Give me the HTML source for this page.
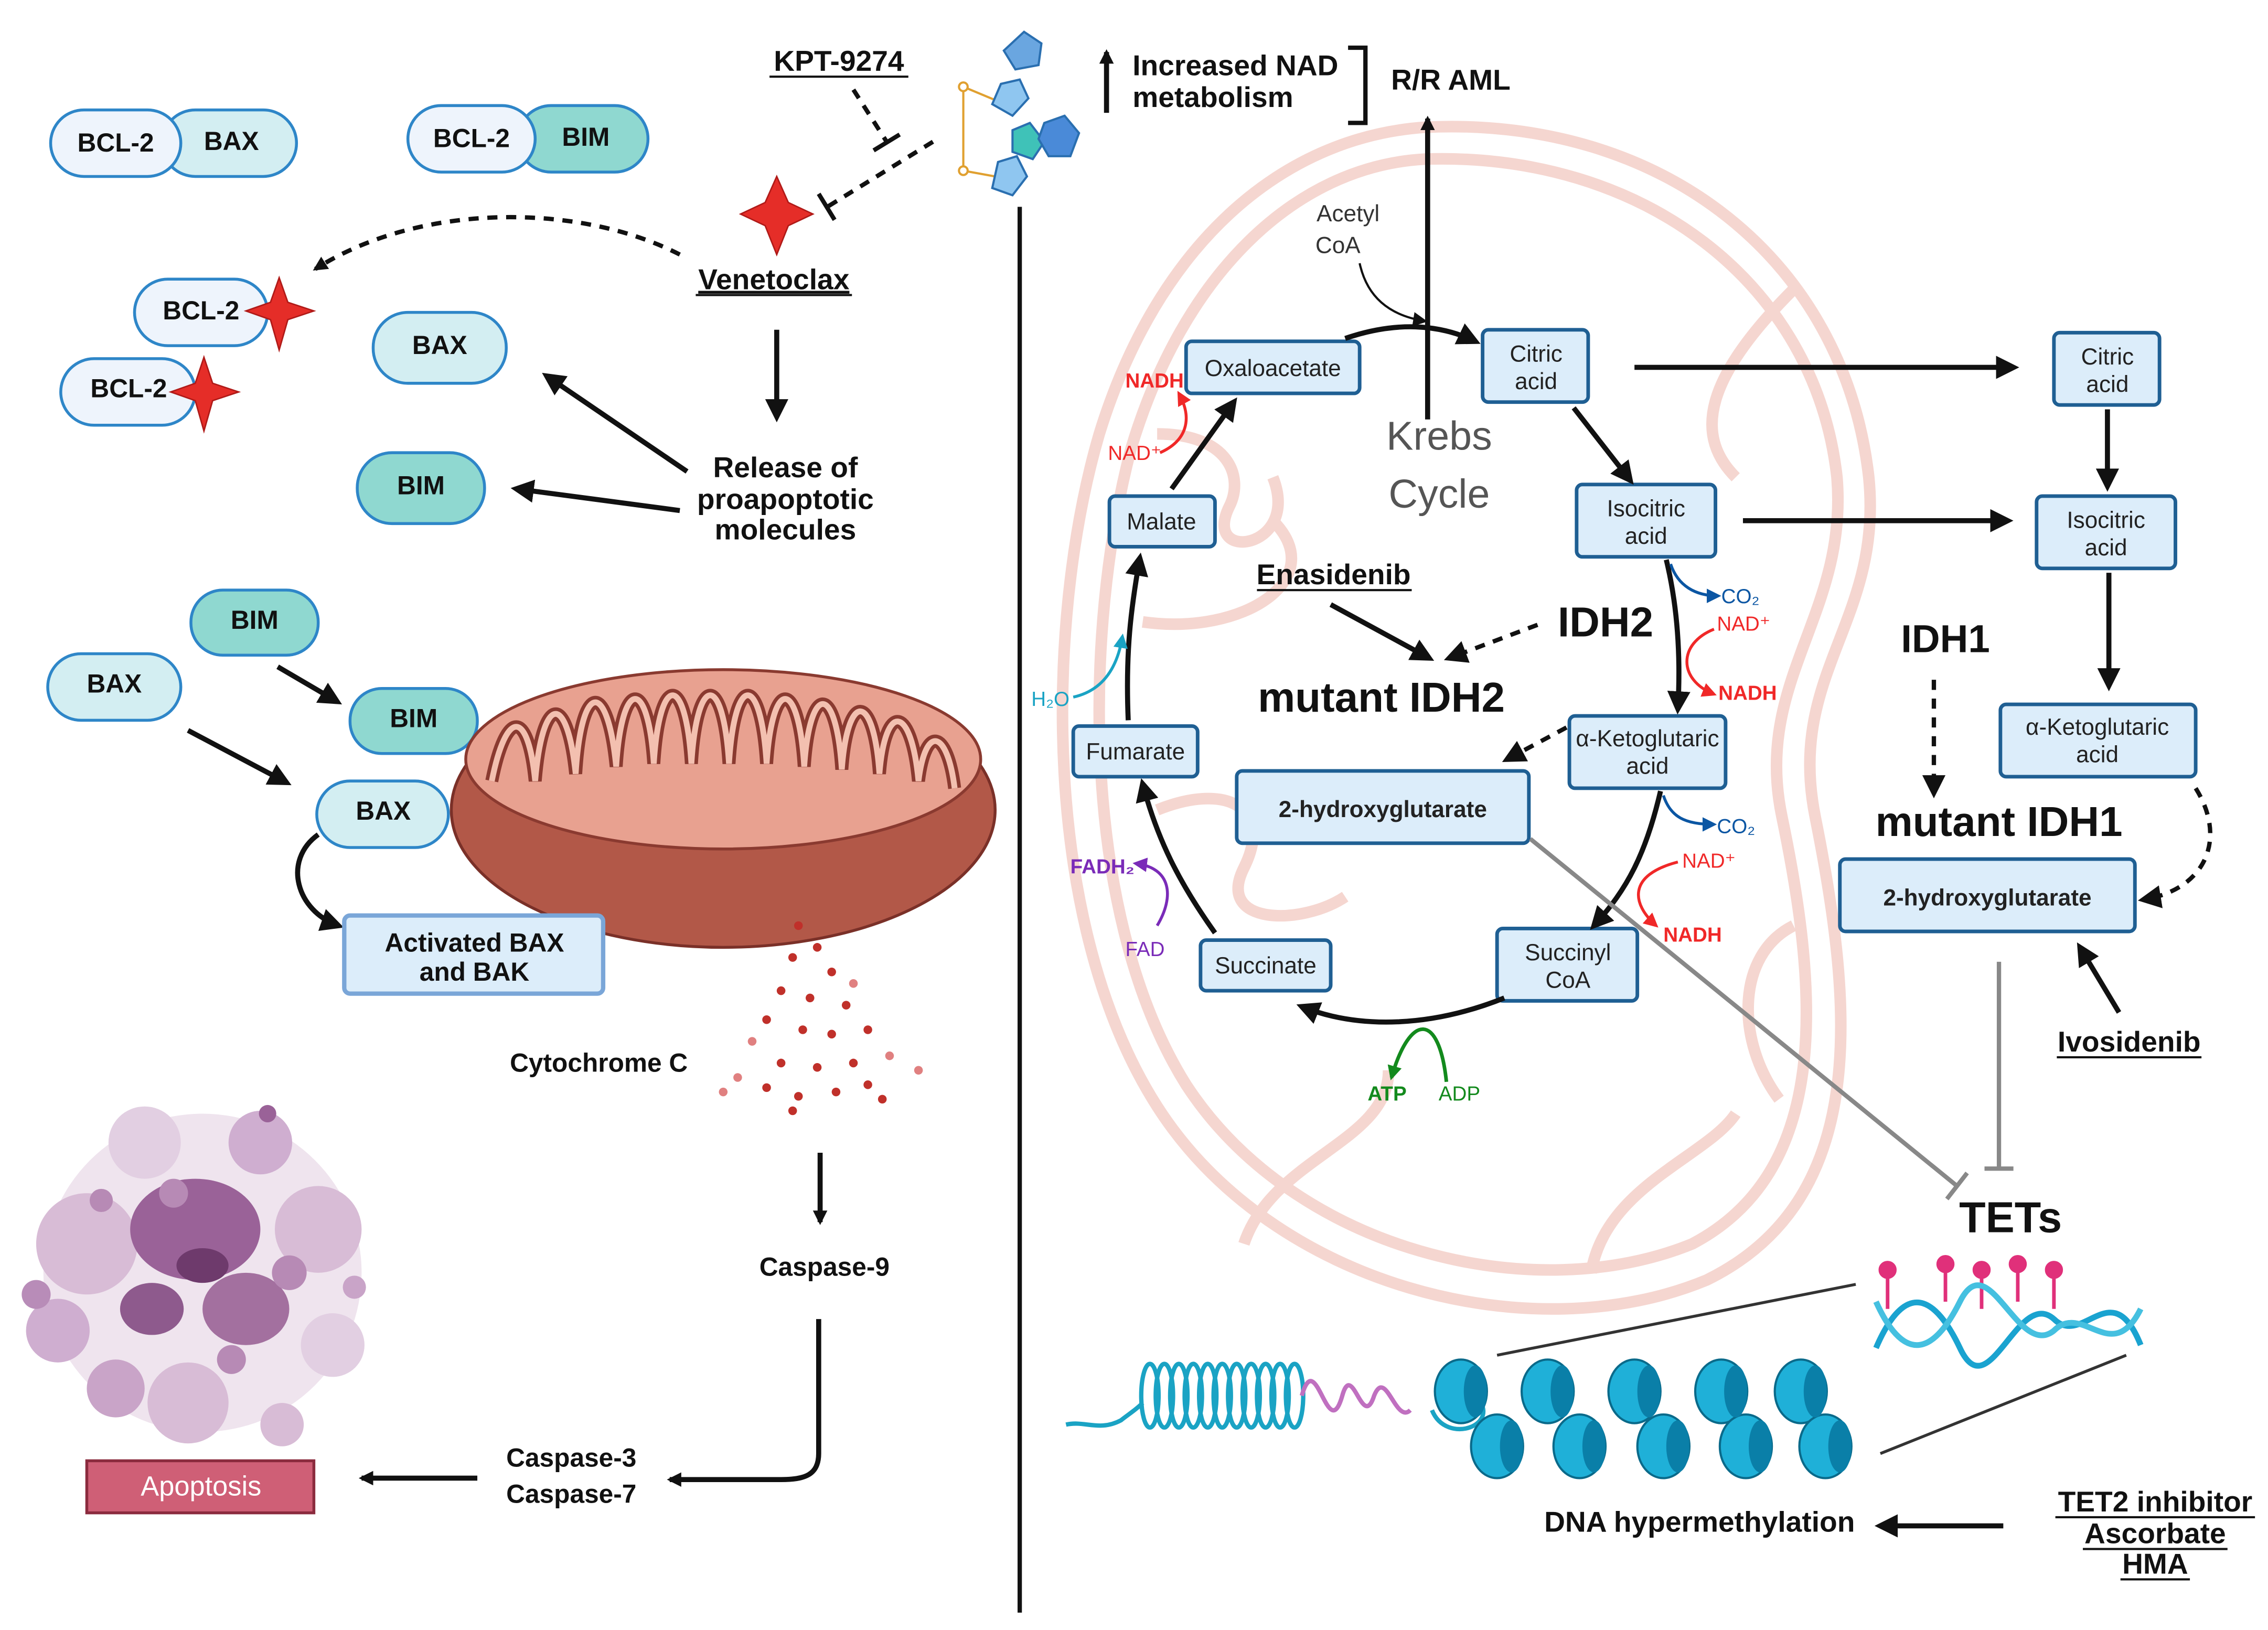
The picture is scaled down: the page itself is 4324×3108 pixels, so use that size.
<!DOCTYPE html>
<html><head><meta charset="utf-8"><style>
html,body{margin:0;padding:0;background:#fff;}
svg{display:block;}
text{font-family:"Liberation Sans",sans-serif;}
.b{font-weight:bold;fill:#111;}
.bx{fill:#dcedfa;stroke:#1f5f93;stroke-width:2.5;}
.bt{font-size:16px;fill:#222;text-anchor:middle;}
.ar{stroke:#111;stroke-width:3.5;fill:none;}
.dash{stroke:#111;stroke-width:3;fill:none;stroke-dasharray:7 6;}
</style></head><body>
<svg width="4324" height="3108" viewBox="0 0 1568 1127" preserveAspectRatio="none" xmlns="http://www.w3.org/2000/svg">
<defs>
<marker id="ah" markerWidth="10" markerHeight="10" refX="8" refY="5" orient="auto" markerUnits="userSpaceOnUse" viewBox="0 0 10 10"><path d="M0,0 L10,5 L0,10 z" fill="#111"/></marker>
<marker id="ahb" markerWidth="16" markerHeight="16" refX="12" refY="8" orient="auto" markerUnits="userSpaceOnUse" viewBox="0 0 16 16"><path d="M0,0 L16,8 L0,16 z" fill="#111"/></marker>
<marker id="ahr" markerWidth="10" markerHeight="10" refX="8" refY="5" orient="auto" markerUnits="userSpaceOnUse" viewBox="0 0 10 10"><path d="M0,0 L10,5 L0,10 z" fill="#f02828"/></marker>
<marker id="ahbl" markerWidth="10" markerHeight="10" refX="8" refY="5" orient="auto" markerUnits="userSpaceOnUse" viewBox="0 0 10 10"><path d="M0,0 L10,5 L0,10 z" fill="#0b56a3"/></marker>
<marker id="ahc" markerWidth="10" markerHeight="10" refX="8" refY="5" orient="auto" markerUnits="userSpaceOnUse" viewBox="0 0 10 10"><path d="M0,0 L10,5 L0,10 z" fill="#1aa3c4"/></marker>
<marker id="ahp" markerWidth="10" markerHeight="10" refX="8" refY="5" orient="auto" markerUnits="userSpaceOnUse" viewBox="0 0 10 10"><path d="M0,0 L10,5 L0,10 z" fill="#7a2bb8"/></marker>
<marker id="ahg" markerWidth="10" markerHeight="10" refX="8" refY="5" orient="auto" markerUnits="userSpaceOnUse" viewBox="0 0 10 10"><path d="M0,0 L10,5 L0,10 z" fill="#138a1d"/></marker>
</defs>

<!-- big pink mitochondrion -->
<g fill="none" stroke="#f5d6d0" stroke-width="8">
<path d="M985 88 C1150 80 1275 180 1292 330 C1302 430 1235 465 1255 565 C1282 700 1292 830 1180 885 C1060 935 880 890 800 765 C720 640 722 430 760 300 C800 170 885 95 985 88 Z"/>
<path d="M985 110 C1135 105 1255 195 1270 330 C1278 425 1212 470 1232 565 C1258 690 1265 810 1170 860 C1060 905 895 865 820 750 C748 635 748 440 782 310 C818 190 895 115 985 110 Z"/>
<path d="M800 300 C850 300 860 330 850 350 C830 390 900 380 880 330"/>
<path d="M790 430 C860 440 920 400 880 360"/>
<path d="M800 560 C850 540 880 560 860 600 C840 640 900 640 930 620"/>
<path d="M860 860 C880 800 960 790 960 740"/>
<path d="M1240 200 C1180 260 1170 300 1200 330"/>
<path d="M1240 640 C1200 660 1200 720 1230 760"/>
<path d="M1100 880 C1110 820 1180 800 1200 770"/>
</g>

<!-- divider -->
<line x1="705" y1="143" x2="705" y2="1115" stroke="#111" stroke-width="3"/>

<!-- LEFT PANEL -->
<g font-size="18">
<rect x="112" y="76" width="93" height="46" rx="23" fill="#d3eef2" stroke="#2e86c8" stroke-width="2"/>
<rect x="35" y="76" width="90" height="46" rx="23" fill="#eef4fc" stroke="#2e86c8" stroke-width="2"/>
<text x="80" y="100" class="b" text-anchor="middle" dominant-baseline="middle">BCL-2</text>
<text x="160" y="99" class="b" text-anchor="middle" dominant-baseline="middle">BAX</text>
<rect x="358" y="73" width="90" height="46" rx="23" fill="#8fd8d0" stroke="#2e86c8" stroke-width="2"/>
<rect x="282" y="73" width="88" height="46" rx="23" fill="#eef4fc" stroke="#2e86c8" stroke-width="2"/>
<text x="326" y="97" class="b" text-anchor="middle" dominant-baseline="middle">BCL-2</text>
<text x="405" y="96" class="b" text-anchor="middle" dominant-baseline="middle">BIM</text>

<rect x="93" y="193" width="92" height="46" rx="23" fill="#eef4fc" stroke="#2e86c8" stroke-width="2"/>
<text x="139" y="216" class="b" text-anchor="middle" dominant-baseline="middle">BCL-2</text>
<rect x="42" y="248" width="93" height="46" rx="23" fill="#eef4fc" stroke="#2e86c8" stroke-width="2"/>
<text x="89" y="270" class="b" text-anchor="middle" dominant-baseline="middle">BCL-2</text>
<rect x="258" y="216" width="92" height="49" rx="24" fill="#d3eef2" stroke="#2e86c8" stroke-width="2"/>
<text x="304" y="240" class="b" text-anchor="middle" dominant-baseline="middle">BAX</text>
<rect x="247" y="313" width="88" height="49" rx="24" fill="#8fd8d0" stroke="#2e86c8" stroke-width="2"/>
<text x="291" y="337" class="b" text-anchor="middle" dominant-baseline="middle">BIM</text>
<rect x="132" y="408" width="88" height="45" rx="22" fill="#8fd8d0" stroke="#2e86c8" stroke-width="2"/>
<text x="176" y="430" class="b" text-anchor="middle" dominant-baseline="middle">BIM</text>
<rect x="33" y="452" width="92" height="46" rx="23" fill="#d3eef2" stroke="#2e86c8" stroke-width="2"/>
<text x="79" y="474" class="b" text-anchor="middle" dominant-baseline="middle">BAX</text>
<rect x="242" y="476" width="88" height="45" rx="22" fill="#8fd8d0" stroke="#2e86c8" stroke-width="2"/>
<text x="286" y="498" class="b" text-anchor="middle" dominant-baseline="middle">BIM</text>
<rect x="219" y="540" width="91" height="46" rx="23" fill="#d3eef2" stroke="#2e86c8" stroke-width="2"/>
<text x="265" y="562" class="b" text-anchor="middle" dominant-baseline="middle">BAX</text>
</g>
<!-- stars -->
<g fill="#e52d28" stroke="#b01a18" stroke-width="1">
<path d="M537 122 L545 140 L562 148 L545 156 L537 176 L529 156 L512 148 L529 140 Z"/>
<path d="M193 192 L199 209 L217 215 L199 221 L193 242 L187 221 L170 215 L187 209 Z"/>
<path d="M141 247 L147 265 L165 271 L147 277 L141 298 L135 277 L118 271 L135 265 Z"/>
</g>
<text x="535" y="200" class="b" font-size="20" text-anchor="middle" text-decoration="underline">Venetoclax</text>
<line x1="481" y1="204" x2="589" y2="204" stroke="#111" stroke-width="1.5"/>
<text x="580" y="49" class="b" font-size="20" text-anchor="middle">KPT-9274</text>
<line x1="532" y1="53" x2="628" y2="53" stroke="#111" stroke-width="1.5"/>
<path class="dash" d="M590 62 L613 98"/><line x1="604" y1="104" x2="622" y2="93" stroke="#111" stroke-width="3"/>
<path class="dash" d="M645 98 L572 143"/><line x1="566" y1="134" x2="577" y2="152" stroke="#111" stroke-width="3"/>
<path class="dash" d="M470 176 C400 140 290 140 218 186" marker-end="url(#ah)"/>

<!-- molecule -->
<g stroke="#2a6fb0" stroke-width="1.5">
<line x1="666" y1="60" x2="666" y2="118" stroke="#e0a030"/>
<line x1="666" y1="60" x2="690" y2="70" stroke="#e0a030"/>
<line x1="666" y1="118" x2="688" y2="122" stroke="#e0a030"/>
<polygon points="708,22 720,30 718,45 702,48 694,35" fill="#6aa6e0"/>
<polygon points="692,58 705,55 711,68 700,80 686,72" fill="#8fc6f0"/>
<polygon points="700,90 712,85 722,98 714,110 700,105" fill="#3fc2b8"/>
<polygon points="722,85 736,80 746,92 740,108 725,108 718,96" fill="#4a8ad8"/>
<polygon points="690,112 703,108 710,122 700,135 686,130" fill="#8fc6f0"/>
<circle cx="666" cy="60" r="3" fill="#fff" stroke="#e0a030"/>
<circle cx="666" cy="118" r="3" fill="#fff" stroke="#e0a030"/>
</g>

<line x1="537" y1="228" x2="537" y2="288" class="ar" stroke-width="2.5" marker-end="url(#ahb)"/>
<g class="b" font-size="20" text-anchor="middle">
<text x="543" y="330">Release of</text><text x="543" y="352">proapoptotic</text><text x="543" y="373">molecules</text>
</g>
<line x1="475" y1="326" x2="378" y2="260" class="ar" marker-end="url(#ahb)"/>
<line x1="470" y1="353" x2="357" y2="338" class="ar" marker-end="url(#ahb)"/>
<line x1="192" y1="461" x2="233" y2="485" class="ar" stroke-width="3" marker-end="url(#ahb)"/>
<line x1="130" y1="505" x2="198" y2="541" class="ar" stroke-width="3" marker-end="url(#ahb)"/>
<path d="M220 577 C195 595 205 630 234 640" class="ar" stroke-width="3" marker-end="url(#ahb)"/>

<!-- left mitochondrion -->
<ellipse cx="500" cy="560" rx="188" ry="95" fill="#b25848" stroke="#7a3028" stroke-width="2"/>
<ellipse cx="500" cy="525" rx="178" ry="62" fill="#e8a190" stroke="#8a3a30" stroke-width="2"/>
<path d="M340 540 C350 490 365 490 370 540 C375 480 392 478 398 535 C402 470 420 470 426 530 C430 468 448 468 452 528 C456 465 474 465 478 528 C482 465 500 465 504 528 C508 465 526 465 530 528 C534 468 552 468 556 530 C560 472 578 472 582 532 C586 478 604 478 608 535 C612 485 630 487 635 540 C640 500 655 505 660 545" fill="none" stroke="#8a3a30" stroke-width="9"/>
<path d="M340 540 C350 490 365 490 370 540 C375 480 392 478 398 535 C402 470 420 470 426 530 C430 468 448 468 452 528 C456 465 474 465 478 528 C482 465 500 465 504 528 C508 465 526 465 530 528 C534 468 552 468 556 530 C560 472 578 472 582 532 C586 478 604 478 608 535 C612 485 630 487 635 540 C640 500 655 505 660 545" fill="none" stroke="#f3c0b0" stroke-width="4"/>

<rect x="238" y="633" width="179" height="54" rx="4" fill="#dcedfa" stroke="#7aa6d8" stroke-width="3"/>
<text x="328" y="658" class="b" font-size="18" text-anchor="middle">Activated BAX</text>
<text x="328" y="678" class="b" font-size="18" text-anchor="middle">and BAK</text>

<!-- cytochrome dots -->
<g fill="#c0302a">
<circle cx="552" cy="640" r="3"/><circle cx="565" cy="655" r="3"/><circle cx="548" cy="662" r="3"/><circle cx="575" cy="672" r="3"/>
<circle cx="540" cy="685" r="3"/><circle cx="560" cy="690" r="3"/><circle cx="585" cy="695" r="3"/><circle cx="530" cy="705" r="3"/>
<circle cx="555" cy="712" r="3"/><circle cx="575" cy="715" r="3"/><circle cx="600" cy="712" r="3"/><circle cx="520" cy="720" r="3" fill="#e08080"/>
<circle cx="540" cy="735" r="3"/><circle cx="565" cy="738" r="3"/><circle cx="590" cy="735" r="3"/><circle cx="615" cy="730" r="3" fill="#e08080"/>
<circle cx="510" cy="745" r="3" fill="#e08080"/><circle cx="530" cy="752" r="3"/><circle cx="552" cy="758" r="3"/><circle cx="578" cy="755" r="3"/>
<circle cx="600" cy="750" r="3"/><circle cx="635" cy="740" r="3" fill="#e08080"/><circle cx="500" cy="755" r="3" fill="#e08080"/><circle cx="548" cy="768" r="3"/>
<circle cx="610" cy="760" r="3"/><circle cx="590" cy="680" r="3" fill="#e08080"/>
</g>
<text x="414" y="741" class="b" font-size="18" text-anchor="middle">Cytochrome C</text>
<line x1="567" y1="797" x2="567" y2="845" class="ar" stroke-width="2" marker-end="url(#ah)"/>
<text x="570" y="882" class="b" font-size="18" text-anchor="middle">Caspase-9</text>
<path d="M566 912 L566 1005 C566 1020 556 1023 540 1023 L463 1023" class="ar" stroke-width="2" marker-end="url(#ah)"/>
<text x="395" y="1014" class="b" font-size="18" text-anchor="middle">Caspase-3</text>
<text x="395" y="1039" class="b" font-size="18" text-anchor="middle">Caspase-7</text>
<line x1="330" y1="1022" x2="250" y2="1022" class="ar" stroke-width="2" marker-end="url(#ah)"/>
<rect x="60" y="1010" width="157" height="36" fill="#cf5f76" stroke="#8b2b3e" stroke-width="2"/>
<text x="139" y="1034" font-size="19" fill="#fff" text-anchor="middle">Apoptosis</text>

<!-- apoptotic cell -->
<g>
<circle cx="140" cy="880" r="110" fill="#efe4ee"/>
<circle cx="60" cy="860" r="35" fill="#d8bcd6"/><circle cx="220" cy="850" r="30" fill="#d8bcd6"/>
<circle cx="180" cy="790" r="22" fill="#cfaed0"/><circle cx="100" cy="790" r="25" fill="#e2cfe2"/>
<circle cx="40" cy="920" r="22" fill="#cfaed0"/><circle cx="230" cy="930" r="22" fill="#e2cfe2"/>
<circle cx="130" cy="970" r="28" fill="#d8bcd6"/><circle cx="80" cy="960" r="20" fill="#c9a4c8"/>
<circle cx="195" cy="985" r="15" fill="#d8bcd6"/><circle cx="25" cy="895" r="10" fill="#b88cb8"/>
<ellipse cx="135" cy="850" rx="45" ry="35" fill="#9a6298"/>
<ellipse cx="170" cy="905" rx="30" ry="25" fill="#a3709f"/>
<ellipse cx="105" cy="905" rx="22" ry="18" fill="#8e5a8d"/>
<ellipse cx="140" cy="875" rx="18" ry="12" fill="#6e3a6c"/>
<circle cx="120" cy="825" r="10" fill="#b78ab5"/><circle cx="200" cy="880" r="12" fill="#b78ab5"/>
<circle cx="70" cy="830" r="8" fill="#b78ab5"/><circle cx="160" cy="940" r="10" fill="#b78ab5"/>
<circle cx="185" cy="770" r="6" fill="#9a6298"/><circle cx="245" cy="890" r="8" fill="#c9a4c8"/>
</g>

<!-- RIGHT PANEL -->
<line x1="765" y1="78" x2="765" y2="36" class="ar" stroke-width="3" marker-end="url(#ah)"/>
<text x="783" y="52" class="b" font-size="20">Increased NAD</text>
<text x="783" y="74" class="b" font-size="20">metabolism</text>
<path d="M932 33 L944 33 L944 85 L932 85" fill="none" stroke="#111" stroke-width="3"/>
<text x="1003" y="62" class="b" font-size="20" text-anchor="middle">R/R AML</text>
<line x1="987" y1="290" x2="987" y2="82" class="ar" stroke-width="3" marker-end="url(#ah)"/>

<text x="995" y="311" font-size="28" fill="#555" text-anchor="middle">Krebs</text>
<text x="995" y="351" font-size="28" fill="#555" text-anchor="middle">Cycle</text>
<text x="932" y="153" font-size="16" fill="#333" text-anchor="middle">Acetyl</text>
<text x="925" y="175" font-size="16" fill="#333" text-anchor="middle">CoA</text>
<path d="M940 182 C945 205 960 218 985 222" fill="none" stroke="#111" stroke-width="1.5" marker-end="url(#ah)"/>

<!-- cycle boxes -->
<rect class="bx" x="820" y="236" width="120" height="36" rx="4"/><text class="bt" x="880" y="260">Oxaloacetate</text>
<rect class="bx" x="1025" y="228" width="73" height="50" rx="4"/><text class="bt" x="1062" y="250">Citric</text><text class="bt" x="1062" y="269">acid</text>
<rect class="bx" x="1090" y="335" width="96" height="50" rx="4"/><text class="bt" x="1138" y="357">Isocitric</text><text class="bt" x="1138" y="376">acid</text>
<rect class="bx" x="1085" y="495" width="108" height="50" rx="4"/><text class="bt" x="1139" y="516">α-Ketoglutaric</text><text class="bt" x="1139" y="535">acid</text>
<rect class="bx" x="1035" y="642" width="97" height="50" rx="4"/><text class="bt" x="1084" y="664">Succinyl</text><text class="bt" x="1084" y="683">CoA</text>
<rect class="bx" x="830" y="650" width="90" height="35" rx="4"/><text class="bt" x="875" y="673">Succinate</text>
<rect class="bx" x="742" y="502" width="86" height="35" rx="4"/><text class="bt" x="785" y="525">Fumarate</text>
<rect class="bx" x="767" y="343" width="73" height="35" rx="4"/><text class="bt" x="803" y="366">Malate</text>
<rect class="bx" x="855" y="533" width="202" height="50" rx="4"/><text class="bt" x="956" y="565" font-weight="bold" font-size="17">2-hydroxyglutarate</text>

<rect class="bx" x="1420" y="230" width="73" height="50" rx="4"/><text class="bt" x="1457" y="252">Citric</text><text class="bt" x="1457" y="271">acid</text>
<rect class="bx" x="1408" y="343" width="96" height="50" rx="4"/><text class="bt" x="1456" y="365">Isocitric</text><text class="bt" x="1456" y="384">acid</text>
<rect class="bx" x="1383" y="487" width="135" height="50" rx="4"/><text class="bt" x="1450" y="508">α-Ketoglutaric</text><text class="bt" x="1450" y="527">acid</text>
<rect class="bx" x="1272" y="594" width="204" height="50" rx="4"/><text class="bt" x="1374" y="626" font-weight="bold" font-size="17">2-hydroxyglutarate</text>

<!-- cycle arrows -->
<path d="M930 234 C965 222 995 224 1020 236" class="ar" marker-end="url(#ahb)"/>
<path d="M1088 282 L1127 332" class="ar" marker-end="url(#ahb)"/>
<path d="M1152 387 C1160 420 1162 455 1160 490" class="ar" marker-end="url(#ahb)"/>
<path d="M1148 547 C1138 590 1125 615 1102 640" class="ar" marker-end="url(#ahb)"/>
<path d="M1040 690 C990 710 940 712 900 696" class="ar" marker-end="url(#ahb)"/>
<path d="M840 645 C815 610 800 580 790 542" class="ar" marker-end="url(#ahb)"/>
<path d="M780 498 C778 450 782 420 788 386" class="ar" marker-end="url(#ahb)"/>
<path d="M810 338 L853 278" class="ar" marker-end="url(#ahb)"/>

<!-- cofactors -->
<path d="M1155 390 C1160 405 1172 412 1188 412" fill="none" stroke="#0b56a3" stroke-width="2" marker-end="url(#ahbl)"/>
<text x="1190" y="417" font-size="14" fill="#0b56a3">CO₂</text>
<text x="1187" y="436" font-size="14" fill="#f02828">NAD⁺</text>
<path d="M1185 435 C1160 445 1160 470 1185 480" fill="none" stroke="#f02828" stroke-width="2" marker-end="url(#ahr)"/>
<text x="1188" y="484" font-size="14" fill="#f02828" font-weight="bold">NADH</text>
<path d="M1150 550 C1155 565 1165 570 1185 570" fill="none" stroke="#0b56a3" stroke-width="2" marker-end="url(#ahbl)"/>
<text x="1187" y="576" font-size="14" fill="#0b56a3">CO₂</text>
<text x="1163" y="600" font-size="14" fill="#f02828">NAD⁺</text>
<path d="M1160 596 C1125 605 1128 625 1145 640" fill="none" stroke="#f02828" stroke-width="2" marker-end="url(#ahr)"/>
<text x="1150" y="651" font-size="14" fill="#f02828" font-weight="bold">NADH</text>
<path d="M802 313 C820 305 825 290 815 272" fill="none" stroke="#f02828" stroke-width="2" marker-end="url(#ahr)"/>
<text x="766" y="318" font-size="14" fill="#f02828">NAD⁺</text>
<text x="778" y="268" font-size="14" fill="#f02828" font-weight="bold">NADH</text>
<path d="M742 482 C760 478 772 465 776 440" fill="none" stroke="#1aa3c4" stroke-width="2" marker-end="url(#ahc)"/>
<text x="713" y="488" font-size="14" fill="#1aa3c4">H₂O</text>
<path d="M800 640 C812 620 810 600 785 597" fill="none" stroke="#7a2bb8" stroke-width="2" marker-end="url(#ahp)"/>
<text x="740" y="604" font-size="14" fill="#7a2bb8" font-weight="bold">FADH₂</text>
<text x="778" y="661" font-size="14" fill="#7a2bb8">FAD</text>
<path d="M1000 748 C995 700 975 700 962 745" fill="none" stroke="#138a1d" stroke-width="2.5" marker-end="url(#ahg)"/>
<text x="959" y="761" font-size="14" fill="#138a1d" font-weight="bold" text-anchor="middle">ATP</text>
<text x="1009" y="761" font-size="14" fill="#138a1d" text-anchor="middle">ADP</text>

<!-- IDH2 -->
<text x="922" y="404" class="b" font-size="20" text-anchor="middle">Enasidenib</text>
<line x1="869" y1="408" x2="976" y2="408" stroke="#111" stroke-width="1.5"/>
<line x1="920" y1="418" x2="988" y2="455" class="ar" stroke-width="3" marker-end="url(#ahb)"/>
<text x="1110" y="440" class="b" font-size="29" text-anchor="middle">IDH2</text>
<path class="dash" d="M1063 432 L1002 455" marker-end="url(#ahb)"/>
<text x="955" y="492" class="b" font-size="29" text-anchor="middle">mutant IDH2</text>
<path class="dash" d="M1083 503 L1042 525" marker-end="url(#ahb)"/>

<line x1="1130" y1="254" x2="1392" y2="254" class="ar" stroke-width="3" marker-end="url(#ahb)"/>
<line x1="1205" y1="360" x2="1388" y2="360" class="ar" stroke-width="3" marker-end="url(#ahb)"/>
<line x1="1457" y1="283" x2="1457" y2="336" class="ar" stroke-width="3" marker-end="url(#ahb)"/>
<line x1="1458" y1="396" x2="1458" y2="474" class="ar" stroke-width="3" marker-end="url(#ahb)"/>
<path class="dash" d="M1518 545 C1540 580 1525 615 1482 622" marker-end="url(#ahb)"/>
<text x="1345" y="451" class="b" font-size="27" text-anchor="middle">IDH1</text>
<path class="dash" d="M1337 470 L1337 548" marker-end="url(#ahb)"/>
<text x="1382" y="578" class="b" font-size="29" text-anchor="middle">mutant IDH1</text>
<line x1="1465" y1="700" x2="1438" y2="655" class="ar" stroke-width="3" marker-end="url(#ahb)"/>
<text x="1472" y="727" class="b" font-size="20" text-anchor="middle">Ivosidenib</text>
<line x1="1422" y1="731" x2="1522" y2="731" stroke="#111" stroke-width="1.5"/>

<line x1="1382" y1="665" x2="1382" y2="808" stroke="#888" stroke-width="3"/>
<line x1="1372" y1="808" x2="1392" y2="808" stroke="#888" stroke-width="3"/>
<line x1="1058" y1="580" x2="1353" y2="820" stroke="#888" stroke-width="3"/>
<line x1="1346" y1="829" x2="1360" y2="811" stroke="#888" stroke-width="3"/>
<text x="1390" y="852" class="b" font-size="30" text-anchor="middle">TETs</text>

<!-- DNA -->
<line x1="1283" y1="888" x2="1035" y2="937" stroke="#333" stroke-width="2"/>
<line x1="1470" y1="937" x2="1300" y2="1005" stroke="#333" stroke-width="2"/>
<g stroke="#e0307a" stroke-width="2.5" fill="#e0307a">
<line x1="1305" y1="905" x2="1305" y2="880"/><circle cx="1305" cy="878" r="5"/>
<line x1="1345" y1="900" x2="1345" y2="876"/><circle cx="1345" cy="874" r="5"/>
<line x1="1370" y1="905" x2="1370" y2="880"/><circle cx="1370" cy="878" r="5"/>
<line x1="1395" y1="900" x2="1395" y2="876"/><circle cx="1395" cy="874" r="5"/>
<line x1="1420" y1="905" x2="1420" y2="880"/><circle cx="1420" cy="878" r="5"/>
</g>
<g fill="none" stroke="#1aa3d0" stroke-width="4">
<path d="M1297 932 C1315 890 1335 890 1355 932 C1375 975 1395 890 1420 912 C1440 932 1460 880 1480 930"/>
<path d="M1297 900 C1315 940 1335 940 1355 900 C1375 860 1395 940 1420 920 C1440 900 1460 945 1480 905" stroke="#45c0e0"/>
</g>
<!-- chromatin coil -->
<path d="M737 985 C750 982 760 990 775 982 C780 978 785 975 790 970" fill="none" stroke="#1aa3c4" stroke-width="3"/>
<g fill="none" stroke="#1aa3c4" stroke-width="3">
<ellipse cx="795" cy="965" rx="6" ry="22"/><ellipse cx="805" cy="965" rx="6" ry="22"/><ellipse cx="815" cy="965" rx="6" ry="22"/>
<ellipse cx="825" cy="965" rx="6" ry="22"/><ellipse cx="835" cy="965" rx="6" ry="22"/><ellipse cx="845" cy="965" rx="6" ry="22"/>
<ellipse cx="855" cy="965" rx="6" ry="22"/><ellipse cx="865" cy="965" rx="6" ry="22"/><ellipse cx="875" cy="965" rx="6" ry="22"/>
<ellipse cx="885" cy="965" rx="6" ry="22"/><ellipse cx="895" cy="965" rx="6" ry="22"/>
</g>
<path d="M900 965 C910 930 918 1000 928 965 C935 940 942 990 950 965 C958 945 965 985 975 975" fill="none" stroke="#c070c0" stroke-width="3"/>
<!-- nucleosomes -->
<g fill="#1fb0d8" stroke="#0a6a8a" stroke-width="1.5">
<path d="M990 975 C1000 1000 1040 985 1020 965" stroke="#1aa3c4" fill="none" stroke-width="3"/>
<ellipse cx="1010" cy="962" rx="18" ry="22"/><ellipse cx="1070" cy="962" rx="18" ry="22"/><ellipse cx="1130" cy="962" rx="18" ry="22"/><ellipse cx="1190" cy="962" rx="18" ry="22"/><ellipse cx="1245" cy="962" rx="18" ry="22"/>
<ellipse cx="1035" cy="1000" rx="18" ry="22"/><ellipse cx="1092" cy="1000" rx="18" ry="22"/><ellipse cx="1150" cy="1000" rx="18" ry="22"/><ellipse cx="1207" cy="1000" rx="18" ry="22"/><ellipse cx="1262" cy="1000" rx="18" ry="22"/>
</g>
<g fill="#0a7fa8">
<ellipse cx="1020" cy="962" rx="8" ry="18"/><ellipse cx="1080" cy="962" rx="8" ry="18"/><ellipse cx="1140" cy="962" rx="8" ry="18"/><ellipse cx="1200" cy="962" rx="8" ry="18"/><ellipse cx="1255" cy="962" rx="8" ry="18"/>
<ellipse cx="1045" cy="1000" rx="8" ry="18"/><ellipse cx="1102" cy="1000" rx="8" ry="18"/><ellipse cx="1160" cy="1000" rx="8" ry="18"/><ellipse cx="1217" cy="1000" rx="8" ry="18"/><ellipse cx="1272" cy="1000" rx="8" ry="18"/>
</g>

<text x="1175" y="1059" class="b" font-size="20" text-anchor="middle">DNA hypermethylation</text>
<line x1="1385" y1="1055" x2="1300" y2="1055" class="ar" stroke-width="3" marker-end="url(#ahb)"/>
<g class="b" font-size="20" text-anchor="middle">
<text x="1490" y="1045">TET2 inhibitor</text><text x="1490" y="1067">Ascorbate</text><text x="1490" y="1088">HMA</text>
</g>
<line x1="1421" y1="1049" x2="1559" y2="1049" stroke="#111" stroke-width="1.5"/>
<line x1="1440" y1="1071" x2="1540" y2="1071" stroke="#111" stroke-width="1.5"/>
<line x1="1466" y1="1092" x2="1514" y2="1092" stroke="#111" stroke-width="1.5"/>
</svg>
</body></html>
